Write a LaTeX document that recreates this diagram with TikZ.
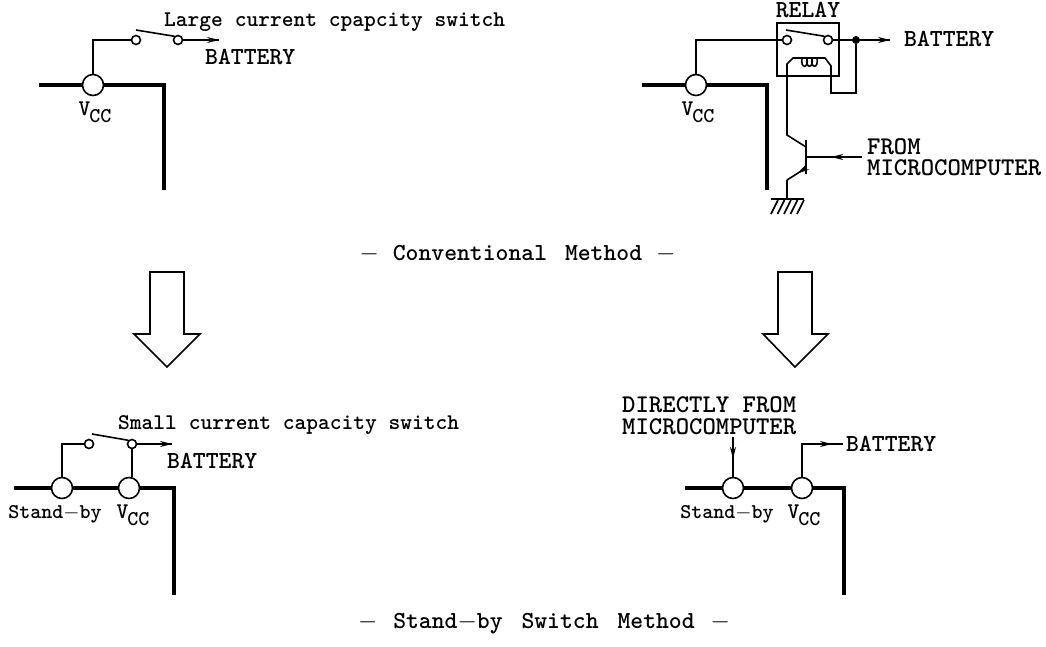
\documentclass[tikz,border=0pt]{standalone}
\usetikzlibrary{arrows.meta,decorations.markings}
\tikzset{
  bus/.style={line width=3.8pt,line join=miter},
  wire/.style={line width=1.6pt},
  pin/.style={draw,circle,fill=white,line width=1.6pt,minimum size=21pt,inner sep=0pt},
  contact/.style={draw,circle,fill=white,line width=1.6pt,minimum size=9pt,inner sep=0pt},
  tag/.style={inner sep=0pt,font=\ttfamily\bfseries\fontsize{24.5}{28}\selectfont},
  note/.style={inner sep=0pt,font=\ttfamily\bfseries\fontsize{22.4}{26}\selectfont},
  stbnote/.style={inner sep=0pt,font=\ttfamily\bfseries\fontsize{21}{26}\selectfont},
  pair/.style={inner sep=0pt,align=left,anchor=west,font=\ttfamily\bfseries\fontsize{25.5}{21.5}\selectfont},
  midtip/.style={postaction={decorate},decoration={markings,mark=at position #1 with {\arrow{Stealth[length=12pt,width=6pt]}}}},
  fat/.style={draw,line width=1.6pt,line join=miter,fill=white}
}
\newcommand{\vcc}{V\kern-1pt\raisebox{-7pt}{\fontsize{21}{22}\selectfont CC}}
\newcommand{\stb}{Stand$-$by}
\begin{document}
\begin{tikzpicture}[x=1pt,y=-1pt,>=Stealth]
    \useasboundingbox (0,0) rectangle (1046,646);
    % conventional, small switch side
    \draw[bus] (39,85)--(164,85)--(164,190);
    \node[pin] (vcca) at (93,85) {};
    \node[contact] (swaa) at (136,40) {};
    \node[contact] (swab) at (178,40) {};
    \coordinate (batta) at (219,40);
    \draw[wire] (vcca.north)|-(swaa.west);
    \draw[wire] (136,30)--(swab.north west);
    \draw[wire,midtip=1] (swab.east)--(batta);
    \node[note,anchor=west] at (164,22) {Large current cpapcity switch};
    \node[tag,anchor=west] at (205,57) {BATTERY};
    \node[note] at (95,112) {\vcc};
    % conventional, relay side
    \draw[bus] (642,85)--(767,85)--(767,190);
    \node[pin] (vccb) at (696,85) {};
    \draw[wire] (777,23) rectangle (839,76);
    \node[contact] (swba) at (787,40) {};
    \node[contact] (swbb) at (828,40) {};
    \node[circle,fill,minimum size=8pt,inner sep=0pt] (dot) at (856,40) {};
    \coordinate (battb) at (890,40);
    \draw[wire] (vccb.north)|-(swba.west);
    \draw[wire] (786,30)--(swbb.north west);
    \draw[wire,midtip=1] (swbb.east)--(battb);
    \draw[wire] (dot)--(856,93)--(831,93)--(831,66)--(825,58)--(793,58)--(787,64)--(787,135)--(806,147);
    \foreach \i in {0,1,2} {\draw[wire] (802+5*\i,58) .. controls (800+5*\i,69) and (809+5*\i,69) .. (807+5*\i,58);}
    \draw[wire] (806,140)--(806,174);
    \draw[wire,midtip=0.45] (806,168)--(787,180);
    \draw[wire] (787,180)--(787,199);
    \draw[wire] (771,199)--(804,199);
    \foreach \i in {0,1,2,3,4} {\draw[wire] (778+6.5*\i,200)--(771+6.5*\i,214);}
    \draw[wire,midtip=0.55] (862,157)--(806,157);
    \node[tag] at (808,10) {RELAY};
    \node[tag,anchor=west] at (904,39) {BATTERY};
    \node[pair] at (867,157) {FROM\\MICROCOMPUTER};
    \node[note] at (698,112) {\vcc};
    \node[tag] at (517.5,254) {$-$\hspace{1pt} Conventional\hspace{5pt} Method\hspace{1pt} $-$};
    % transition arrows
    \draw[fat] (150,272)--(184,272)--(184,334)--(200,334)--(167,367)--(134,334)--(150,334)--cycle;
    \draw[fat] (778,272)--(812,272)--(812,334)--(828,334)--(795,367)--(763,334)--(778,334)--cycle;
    % stand-by, small switch side
    \draw[bus] (14,488)--(174,488)--(174,595);
    \node[pin] (stbc) at (62,488) {};
    \node[pin] (vccc) at (129,488) {};
    \node[contact] (swca) at (89,444) {};
    \node[contact] (swcb) at (132,444) {};
    \coordinate (battc) at (172,444);
    \draw[wire] (stbc.north)|-(swca.west);
    \draw[wire] (92,434)--(swcb.north west);
    \draw[wire] (swcb.south)--(swcb.south|-vccc.north);
    \draw[wire,midtip=1] (swcb.east)--(battc);
    \node[note,anchor=west] at (118,425) {Small current capacity switch};
    \node[tag,anchor=west] at (167,461) {BATTERY};
    \node[stbnote] at (55,514) {\stb};
    \node[note] at (133,515) {\vcc};
    % stand-by, direct side
    \draw[bus] (685,488)--(844,488)--(844,595);
    \node[pin] (stbd) at (733,488) {};
    \node[pin] (vccd) at (802,488) {};
    \coordinate (micro) at (733,437);
    \coordinate (battd) at (843,444);
    \draw[wire,midtip=0.55] (micro)--(stbd.north);
    \draw[wire,midtip=0.85] (vccd.north)|-(battd);
    \node[pair] at (622,415.5) {DIRECTLY FROM\\MICROCOMPUTER};
    \node[tag,anchor=west] at (846,444) {BATTERY};
    \node[stbnote] at (727,514) {\stb};
    \node[note] at (804,515) {\vcc};
    \node[tag] at (544,624) {$-$\hspace{3pt} \stb\hspace{6pt} Switch\hspace{6pt} Method\hspace{3pt} $-$};
\end{tikzpicture}
\end{document}
